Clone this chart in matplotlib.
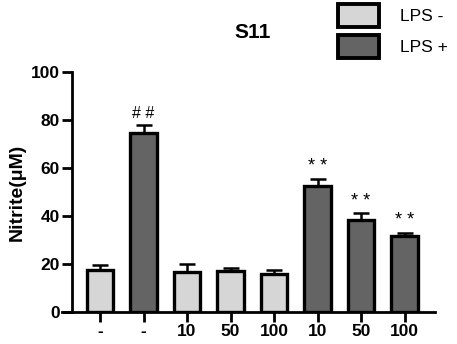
import numpy as np
import matplotlib
matplotlib.use("Agg")
import matplotlib.pyplot as plt
from matplotlib.patches import Patch

plt.rcParams['font.family'] = ['Liberation Sans', 'DejaVu Sans']

# data
groups = ["-", "-", "10", "50", "100", "10", "50", "100"]
lps = ["-", "+", "-", "-", "-", "+", "+", "+"]
means = [17.5, 74.4, 16.8, 17.1, 15.7, 52.5, 38.5, 31.5]
errs = [1.9, 3.5, 3.2, 1.4, 1.8, 2.9, 2.7, 1.5]
marks = ["", "# #", "", "", "", "* *", "* *", "* *"]

light = "#d6d6d6"
dark = "#646464"

fig = plt.figure(figsize=(4.57, 3.44), dpi=100)
ax = fig.add_axes([62/457, 1-312/344, 373/457, 240/344])

x = np.arange(len(means))
cols = [light if l == "-" else dark for l in lps]
ax.errorbar(x, means, yerr=[np.zeros(len(errs)), errs], fmt='none', ecolor='black',
            elinewidth=1.8, capsize=5.5, capthick=1.8, zorder=1)
ax.bar(x, means, width=0.6, color=cols, edgecolor='black', linewidth=2.4, zorder=2)

for i in range(len(means)):
    if marks[i]:
        ax.text(x[i], means[i] + errs[i] + 1.5, marks[i], ha='center', va='bottom',
                fontsize=11.5 if marks[i].startswith('#') else 13)

ax.set_xlim(-0.874, 7.70)
ax.set_ylim(0, 100)
ax.spines['top'].set_visible(False)
ax.spines['right'].set_visible(False)
ax.spines['left'].set_position(('data', -0.644))
ax.spines['left'].set_linewidth(2)
ax.spines['bottom'].set_linewidth(2)
ax.set_yticks([0, 20, 40, 60, 80, 100])
ax.set_xticks(x)
ax.set_xticklabels(groups, fontweight='bold', fontsize=12.5)
for t in ax.get_yticklabels():
    t.set_fontweight('bold')
    t.set_fontsize(12.5)
ax.tick_params(axis='both', width=2, length=7)
ax.tick_params(axis='x', pad=1.5)
ax.tick_params(axis='y', pad=2)
ax.set_ylabel("Nitrite(μM)", fontweight='bold', fontsize=14)
ax.yaxis.set_label_coords(-0.097, 0.5)

fig.text(253/457, 1-32/344, "S11", ha='center', va='center', fontweight='bold', fontsize=15)

handles = [Patch(facecolor=light, edgecolor='black', linewidth=2.8, label="LPS -"),
           Patch(facecolor=dark, edgecolor='black', linewidth=2.8, label="LPS +")]
fig.legend(handles=handles, loc='upper left', bbox_to_anchor=(329/457, 1.015), frameon=False,
           fontsize=12.5, handlelength=2.4, handleheight=1.7, handletextpad=1.2,
           labelspacing=0.45, borderaxespad=0.1)

fig.savefig("out.png", dpi=100)
